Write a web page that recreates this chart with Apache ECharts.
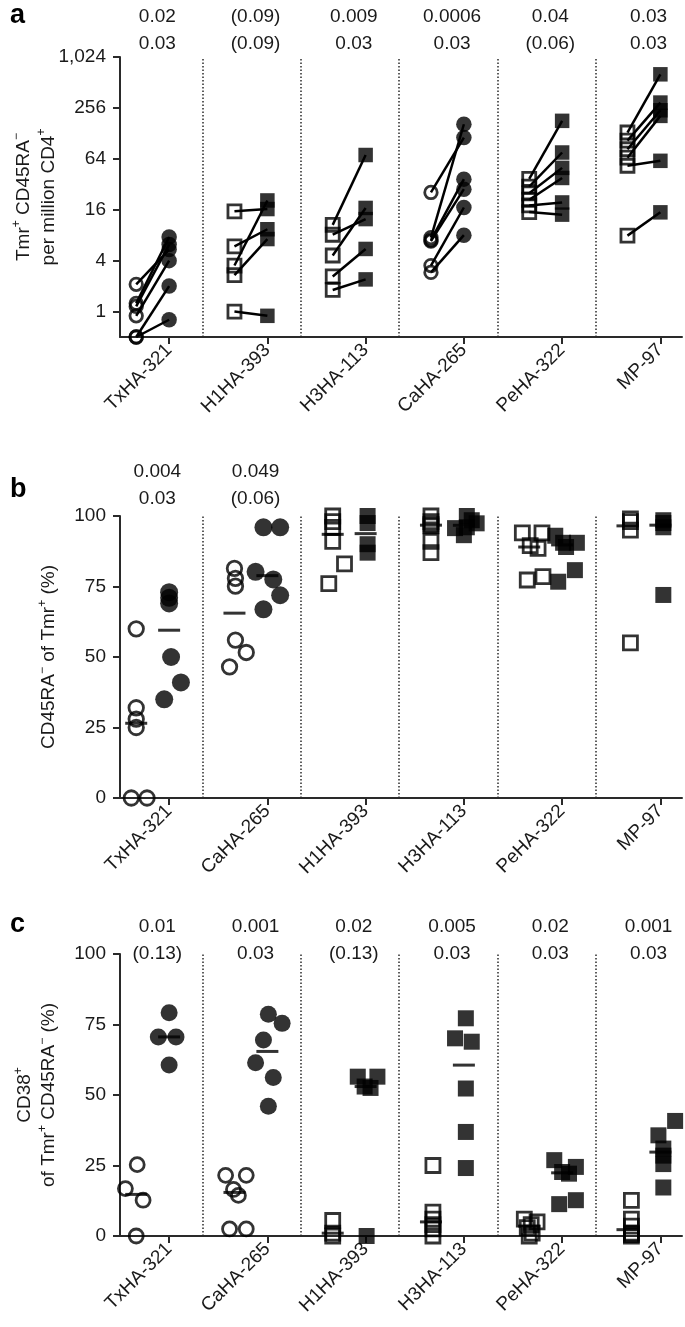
<!DOCTYPE html>
<html><head><meta charset="utf-8">
<script src="https://cdn.jsdelivr.net/npm/echarts@6/dist/echarts.min.js"></script>
<style>html,body{margin:0;padding:0;background:#fff}#c{width:685px;height:1327px}</style>
</head><body><div id="c"></div><script>
// ---------------- data ----------------
// Panel a: Tmr+ CD45RA- per million CD4+ (before = open, after = filled), paired per donor
const aCats = ['TxHA-321', 'H1HA-393', 'H3HA-113', 'CaHA-265', 'PeHA-322', 'MP-97'];
const aShapes = ['circle', 'rect', 'rect', 'circle', 'rect', 'rect'];
const aOpen = [
  [2.1, 1.25, 1.15, 0.89, 0.5, 0.5],
  [15.3, 5.9, 3.5, 2.7, 1.0],
  [10.6, 8.1, 4.6, 2.6, 1.8],
  [25.6, 7.5, 7.0, 6.8, 3.5, 2.9],
  [37, 30, 25, 21, 18, 15],
  [131, 105, 83, 66, 53, 7.9]
];
const aFilled = [
  [5.4, 7.6, 6.2, 4.0, 2.0, 0.8],
  [16.3, 9.4, 20.6, 7.2, 0.89],
  [71, 12.4, 16.8, 5.5, 2.4],
  [114, 164, 36.8, 28, 17, 8.0],
  [180, 76, 50, 38, 19.5, 14],
  [639, 296, 240, 206, 60.6, 14.9]
];
const aTicks = [1, 4, 16, 64, 256, 1024];
const aP1 = ['0.02', '(0.09)', '0.009', '0.0006', '0.04', '0.03'];
const aP2 = ['0.03', '(0.09)', '0.03', '0.03', '(0.06)', '0.03'];

// Panel b: CD45RA- of Tmr+ (%)
const bCats = ['TxHA-321', 'CaHA-265', 'H1HA-393', 'H3HA-113', 'PeHA-322', 'MP-97'];
const bShapes = ['circle', 'circle', 'rect', 'rect', 'rect', 'rect'];
const bOpen = [
  [60, 32, 28, 25, 0, 0],
  [81.4, 77.9, 75.1, 56, 51.6, 46.5],
  [100, 98, 96, 91, 83, 76],
  [100, 98, 97, 96.5, 91, 87],
  [94, 94, 89.5, 88.5, 77.3, 78.5],
  [99, 98, 95, 55]
];
const bFilled = [
  [73, 71, 69, 50, 41, 35],
  [96, 96, 80.2, 77.5, 71.9, 66.9],
  [100, 97.5, 90, 87],
  [100, 95.7, 97.4, 93.2, 96, 98.5],
  [93, 90.5, 90.5, 89, 76.7, 80.8],
  [98.5, 97.5, 96, 72]
];
const bTicks = [0, 25, 50, 75, 100];
const bP1 = ['0.004', '0.049'];
const bP2 = ['0.03', '(0.06)'];

// Panel c: CD38+ of Tmr+ CD45RA- (%)
const cCats = ['TxHA-321', 'CaHA-265', 'H1HA-393', 'H3HA-113', 'PeHA-322', 'MP-97'];
const cShapes = ['circle', 'circle', 'rect', 'rect', 'rect', 'rect'];
const cOpen = [
  [25.3, 16.8, 12.7, 0],
  [21.5, 21.5, 16.5, 14.4, 2.5, 2.5],
  [5.5, 1, 0],
  [25, 8.5, 6, 4, 2.5, 0],
  [6, 5, 4, 3, 1, 0],
  [12.6, 6, 3.5, 1, 0.5, 0]
];
const cFilled = [
  [79.2, 70.6, 70.6, 60.6],
  [78.6, 75.4, 69.5, 61.4, 56.2, 46],
  [56.5, 56.5, 53, 52.5, 0],
  [77.2, 70.1, 68.9, 52.3, 36.9, 24.1],
  [26.9, 24.5, 22.7, 22.1, 12.7, 11.3],
  [40.8, 35.7, 31, 28.5, 25.5, 17.2]
];
const cTicks = [0, 25, 50, 75, 100];
const cP1 = ['0.01', '0.001', '0.02', '0.005', '0.02', '0.001'];
const cP2 = ['(0.13)', '0.03', '(0.13)', '0.03', '0.03', '0.03'];

// ---------------- layout (scatter jitter, in group-width units) ----------------
const bOpenJit = [
  [0, 0, 0, 0, -0.05, 0.11],
  [0, 0.01, 0.01, 0.01, 0.12, -0.05],
  [0, 0, 0, 0, 0.12, -0.04],
  [0, 0, 0, 0, 0, 0],
  [-0.07, 0.13, 0.01, 0.09, -0.02, 0.14],
  [0.03, 0.03, 0.03, 0.03]
];
const bFilledJit = [
  [0, 0, 0, 0.02, 0.12, -0.05],
  [-0.04, 0.13, -0.12, 0.06, 0.13, -0.04],
  [0.02, 0.02, 0.02, 0.02],
  [0.03, -0.09, 0.13, 0, 0.03, 0.08],
  [-0.07, 0.01, 0.15, 0.04, -0.04, 0.13],
  [0.03, 0.03, 0.03, 0.03]
];
const cOpenJit = [
  [0.01, -0.11, 0.07, 0],
  [-0.09, 0.12, -0.01, 0.04, -0.05, 0.12],
  [0, 0, 0],
  [0.02, 0.02, 0.02, 0.02, 0.02, 0.02],
  [-0.05, 0.08, 0.02, -0.02, 0.03, 0],
  [0.04, 0.04, 0.04, 0.04, 0.04, 0.04]
];
const cFilledJit = [
  [0, -0.11, 0.07, 0],
  [0.01, 0.15, -0.04, -0.12, 0.06, 0.01],
  [-0.08, 0.12, -0.01, 0.05, 0.01],
  [0.02, -0.09, 0.08, 0.02, 0.02, 0.02],
  [-0.08, 0.14, 0, 0.07, 0.14, -0.03],
  [0.15, -0.02, 0.03, 0.03, 0.03, 0.03]
];

const FONT = "'Liberation Sans', Arial, Helvetica, sans-serif";
const INK = '#1a1a1a';
const AX = '#2a2a2a';
const MK = '#000';
const X_MIN = -0.5, X_MAX = 5.22, OPEN_DX = -0.335, SEP_DX = 0.34, P_DX = -0.12;
const groupIdx = [0, 1, 2, 3, 4, 5];
const log4 = v => Math.log(v) / Math.log(4);

function median(arr) {
  const s = arr.slice().sort((a, b) => a - b);
  const n = s.length;
  return n % 2 ? s[(n - 1) / 2] : (s[n / 2 - 1] + s[n / 2]) / 2;
}

const supRich = {
  n: { fontSize: 19, fontFamily: FONT, color: INK },
  s: { fontSize: 12, fontFamily: FONT, color: INK, verticalAlign: 'top' }
};

function xAxes(gi, cats, p1, p2, pMargin) {
  return [{
    type: 'value', gridIndex: gi, min: X_MIN, max: X_MAX, position: 'bottom',
    axisLine: { show: true, onZero: false, lineStyle: { color: AX, width: 2 } },
    axisTick: { show: true, customValues: groupIdx, length: 7, lineStyle: { color: AX, width: 2 } },
    axisLabel: { show: true, customValues: groupIdx, rotate: 45, margin: 10, fontSize: 19, color: INK, fontFamily: FONT,
      formatter: v => cats[Math.round(v)] },
    splitLine: { show: false }
  }, {
    type: 'value', gridIndex: gi, min: X_MIN, max: X_MAX, position: 'top',
    axisLine: { show: false, onZero: false }, axisTick: { show: false }, splitLine: { show: false },
    axisLabel: { show: true, customValues: p1.map((_, i) => i + P_DX), margin: pMargin, fontSize: 19, lineHeight: 27,
      color: INK, fontFamily: FONT,
      formatter: v => { const i = Math.round(v - P_DX); return p1[i] + '\n' + p2[i]; } }
  }];
}

function pctAxis(gi, ticks, name, gap) {
  return {
    type: 'value', gridIndex: gi, min: ticks[0], max: ticks[ticks.length - 1], interval: ticks[1] - ticks[0],
    axisLine: { show: true, onZero: false, lineStyle: { color: AX, width: 2 } },
    axisTick: { show: true, length: 7, lineStyle: { color: AX, width: 2 } },
    axisLabel: { fontSize: 19, color: INK, fontFamily: FONT, margin: 14 },
    splitLine: { show: false },
    name: name, nameLocation: 'middle', nameGap: gap,
    nameTextStyle: { rich: supRich, lineHeight: 24, fontSize: 19, fontFamily: FONT, color: INK }
  };
}

const openStyle = { color: 'rgba(255,255,255,0)', borderColor: MK, borderWidth: 2.8 };
const fillStyle = { color: MK, borderWidth: 0 };

function pointsSeries(xi, yi, vals, jit, shapes, dx, open, sizes) {
  const data = [];
  vals.forEach((arr, g) => arr.forEach((v, k) => {
    const shp = shapes[g];
    data.push({
      value: [g + dx + (jit ? jit[g][k] : 0), v],
      symbol: shp,
      symbolSize: shp === 'circle' ? sizes[0] : sizes[1]
    });
  }));
  return {
    type: 'scatter', xAxisIndex: xi, yAxisIndex: yi, data: data, clip: false, silent: true, z: 3,
    itemStyle: open ? openStyle : fillStyle
  };
}

function medianSeries(xi, yi, vals, dx) {
  return {
    type: 'scatter', xAxisIndex: xi, yAxisIndex: yi, clip: false, silent: true, z: 4,
    symbol: 'rect', symbolSize: [22, 3], itemStyle: { color: MK },
    data: vals.map((arr, g) => [g + dx, median(arr)])
  };
}

function sepSeries(xi, yi) {
  return {
    type: 'scatter', xAxisIndex: xi, yAxisIndex: yi, data: [], silent: true,
    markLine: {
      silent: true, symbol: ['none', 'none'], label: { show: false }, animation: false,
      lineStyle: { type: [1.5, 2], color: AX, width: 1.5 },
      data: [0, 1, 2, 3, 4].map(i => ({ xAxis: i + SEP_DX }))
    }
  };
}

const series = [];
// panel a
series.push(sepSeries(0, 0));
aOpen.forEach((arr, g) => arr.forEach((v, k) => {
  series.push({
    type: 'line', xAxisIndex: 0, yAxisIndex: 0, silent: true, z: 2, symbol: 'none', showSymbol: false,
    lineStyle: { color: MK, width: 2.5 },
    data: [[g + OPEN_DX, v], [g, aFilled[g][k]]]
  });
}));
series.push(pointsSeries(0, 0, aOpen, null, aShapes, OPEN_DX, true, [12.5, 13]));
series.push(pointsSeries(0, 0, aFilled, null, aShapes, 0, false, [15.5, 14.5]));
// panel b
series.push(sepSeries(2, 2));
series.push(pointsSeries(2, 2, bOpen, bOpenJit, bShapes, OPEN_DX, true, [14.5, 14]));
series.push(pointsSeries(2, 2, bFilled, bFilledJit, bShapes, 0, false, [18, 16]));
series.push(medianSeries(2, 2, bOpen, OPEN_DX));
series.push(medianSeries(2, 2, bFilled, 0));
// panel c
series.push(sepSeries(4, 3));
series.push(pointsSeries(4, 3, cOpen, cOpenJit, cShapes, OPEN_DX, true, [14, 14]));
series.push(pointsSeries(4, 3, cFilled, cFilledJit, cShapes, 0, false, [17, 16]));
series.push(medianSeries(4, 3, cOpen, OPEN_DX));
series.push(medianSeries(4, 3, cFilled, 0));

const option = {
  animation: false,
  backgroundColor: '#fff',
  textStyle: { fontFamily: FONT },
  grid: [
    { left: 120, top: 57, width: 562, height: 280, containLabel: false, outerBoundsMode: 'none' },
    { left: 120, top: 516, width: 562, height: 282, containLabel: false, outerBoundsMode: 'none' },
    { left: 120, top: 954, width: 562, height: 282, containLabel: false, outerBoundsMode: 'none' }
  ],
  xAxis: [].concat(
    xAxes(0, aCats, aP1, aP2, 0),
    xAxes(1, bCats, bP1, bP2, 4),
    xAxes(2, cCats, cP1, cP2, -13)
  ),
  yAxis: [
    {
      type: 'log', logBase: 2, gridIndex: 0, min: 0.5, max: 1024,
      axisLine: { show: true, onZero: false, lineStyle: { color: AX, width: 2 } },
      axisTick: { show: false }, axisLabel: { show: false }, splitLine: { show: false },
      name: '{n|Tmr}{s|+}{n| CD45RA}{s|\u2212}\n{n|per million CD4}{s|+}',
      nameLocation: 'middle', nameGap: 59,
      nameTextStyle: { rich: supRich, lineHeight: 25, fontSize: 19, fontFamily: FONT, color: INK }
    },
    {
      type: 'value', gridIndex: 0, min: log4(0.5), max: log4(1024), position: 'left',
      axisLine: { show: false, onZero: false }, splitLine: { show: false },
      axisTick: { show: true, customValues: aTicks.map(log4), length: 7, lineStyle: { color: AX, width: 2 } },
      axisLabel: { customValues: aTicks.map(log4), fontSize: 19, color: INK, fontFamily: FONT, margin: 14,
        formatter: v => aTicks[Math.round(v)].toLocaleString('en-US') }
    },
    pctAxis(1, bTicks, '{n|CD45RA}{s|\u2212}{n| of Tmr}{s|+}{n| (%)}', 59),
    pctAxis(2, cTicks, '{n|CD38}{s|+}\n{n|of Tmr}{s|+}{n| CD45RA}{s|\u2212}{n| (%)}', 59)
  ],
  graphic: [
    { type: 'text', x: 10, y: 16, style: { text: 'a', fontSize: 27, fontWeight: 'bold', fontFamily: FONT, fill: MK, verticalAlign: 'middle' } },
    { type: 'text', x: 10, y: 490, style: { text: 'b', fontSize: 27, fontWeight: 'bold', fontFamily: FONT, fill: MK, verticalAlign: 'middle' } },
    { type: 'text', x: 10, y: 925, style: { text: 'c', fontSize: 27, fontWeight: 'bold', fontFamily: FONT, fill: MK, verticalAlign: 'middle' } }
  ],
  series: series
};

const chart = echarts.init(document.getElementById('c'), null, { renderer: 'canvas', width: 685, height: 1327 });
chart.setOption(option);
</script></body></html>
